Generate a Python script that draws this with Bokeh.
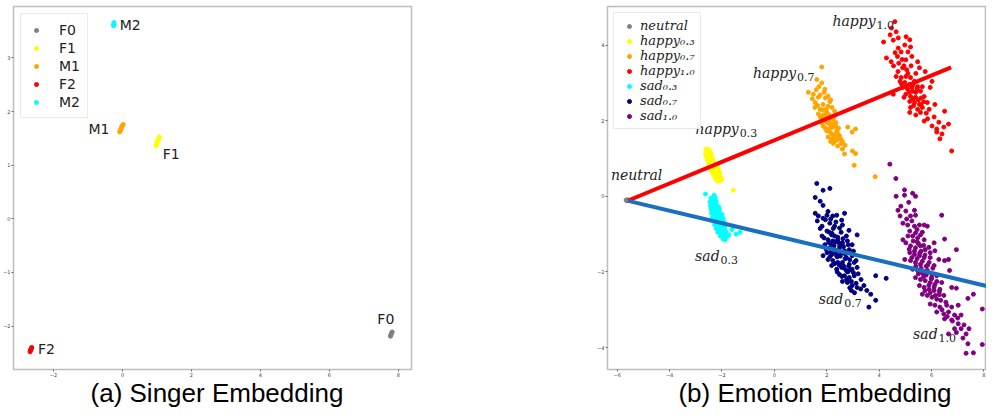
import numpy as np
from bokeh.plotting import figure
from bokeh.layouts import row, column
from bokeh.models import Legend, LegendItem, ColumnDataSource, FixedTicker, Div, Spacer
from bokeh.core.properties import value
from bokeh.embed import file_html
from bokeh.resources import INLINE

# ---------------- (a) Singer embedding data ----------------
singer_names = ["F0", "F1", "M1", "F2", "M2"]
singer_colors = ["#808080", "#ffff00", "#ffa500", "#ff0000", "#00ffff"]
f0_pts = [(7.77, -2.19), (7.78, -2.17), (7.79, -2.15), (7.80, -2.14), (7.81, -2.12), (7.82, -2.11)]
f1_pts = [(0.97, 1.36), (0.99, 1.39), (1.00, 1.42), (1.01, 1.44), (1.03, 1.46), (1.04, 1.48), (1.05, 1.50), (1.07, 1.53)]
m1_pts = [(-0.08, 1.62), (-0.06, 1.65), (-0.05, 1.67), (-0.03, 1.70), (-0.02, 1.72), (0.00, 1.74), (0.02, 1.76)]
f2_pts = [(-2.68, -2.48), (-2.67, -2.46), (-2.66, -2.44), (-2.65, -2.43), (-2.64, -2.41), (-2.63, -2.40)]
m2_pts = [(-0.26, 3.60), (-0.255, 3.62), (-0.25, 3.64), (-0.245, 3.66)]
singer_pts = [f0_pts, f1_pts, m1_pts, f2_pts, m2_pts]
singer_xticks = [-2, 0, 2, 4, 6, 8]
singer_yticks = [-2, -1, 0, 1, 2, 3]
singer_caption = "(a) Singer Embedding"

# ---------------- (b) Emotion embedding data ----------------
emo_names = ["neutral", "happy₀.₃", "happy₀.₇", "happy₁.₀", "sad₀.₃", "sad₀.₇", "sad₁.₀"]
emo_base = ["neutral", "happy", "happy", "happy", "sad", "sad", "sad"]
emo_sub = ["", "0.3", "0.7", "1.0", "0.3", "0.7", "1.0"]
emo_colors = ["#808080", "#ffff00", "#ffa500", "#ff0000", "#00ffff", "#000080", "#800080"]
neutral_pts = [(-5.66, -0.10), (-5.63, -0.12), (-5.60, -0.09)]
happy03_pts = [(-2.62, 1.24), (-2.55, 1.25), (-2.48, 1.22), (-2.60, 1.17), (-2.52, 1.18), (-2.44, 1.15),
               (-2.63, 1.10), (-2.56, 1.11), (-2.49, 1.08), (-2.41, 1.10), (-2.58, 1.03), (-2.51, 1.02),
               (-2.44, 1.04), (-2.37, 1.01), (-2.55, 0.96), (-2.48, 0.95), (-2.40, 0.97), (-2.33, 0.94),
               (-2.52, 0.89), (-2.45, 0.88), (-2.38, 0.90), (-2.30, 0.87), (-2.49, 0.82), (-2.42, 0.81),
               (-2.34, 0.83), (-2.27, 0.80), (-2.20, 0.84), (-2.46, 0.75), (-2.38, 0.74), (-2.31, 0.76),
               (-2.24, 0.73), (-2.17, 0.77), (-2.41, 0.68), (-2.34, 0.67), (-2.27, 0.69), (-2.20, 0.66),
               (-2.13, 0.70), (-2.36, 0.61), (-2.29, 0.60), (-2.22, 0.62), (-2.15, 0.59), (-2.08, 0.63),
               (-2.30, 0.54), (-2.23, 0.53), (-2.16, 0.55), (-2.09, 0.52), (-2.25, 0.47), (-2.18, 0.46),
               (-2.11, 0.48), (-2.04, 0.50), (-2.19, 0.41), (-2.12, 0.40), (-2.05, 0.42), (-2.00, 0.45),
               (-1.57, 0.16)]
happy07_pts = [(1.81, 3.42), (1.62, 3.09), (1.81, 3.00), (1.93, 2.83), (1.30, 2.75), (1.49, 2.70), (1.68, 2.62),
               (2.05, 2.65), (1.86, 2.43), (2.12, 2.50), (1.56, 2.48), (1.75, 2.30), (2.00, 2.22), (2.20, 2.35),
               (2.30, 2.25), (1.75, 2.10), (1.93, 2.00), (2.12, 1.90), (1.86, 1.86), (2.23, 1.83), (2.00, 1.73),
               (2.20, 1.65), (2.38, 1.73), (2.05, 1.57), (2.30, 1.57), (2.49, 1.60), (2.80, 1.83), (2.97, 1.70),
               (3.10, 1.78), (2.30, 1.47), (2.60, 1.44), (2.42, 1.33), (2.68, 1.12), (2.98, 1.20), (3.10, 1.13),
               (3.05, 0.82), (3.85, 0.52), (1.70, 2.90), (1.90, 2.75), (2.15, 2.55), (1.95, 2.12), (2.10, 2.15),
               (2.25, 2.05), (1.80, 1.95), (2.35, 1.95), (2.45, 1.80), (2.55, 1.50), (2.15, 1.45), (1.65, 2.40),
               (1.45, 2.58), (2.05, 1.78), (2.25, 1.40), (2.40, 1.70), (2.60, 1.25), (2.70, 1.35),
               (1.60, 2.82), (1.75, 2.68), (1.95, 2.60), (1.55, 2.35), (1.85, 2.28), (2.05, 2.38), (1.68, 2.18),
               (1.88, 2.15), (2.08, 2.02), (2.28, 2.12), (1.85, 2.05), (2.02, 1.95), (2.18, 1.82), (2.35, 1.85),
               (1.95, 1.80), (2.12, 1.70), (2.28, 1.62), (2.45, 1.62), (2.18, 1.52), (2.38, 1.48), (2.55, 1.40),
               (2.10, 1.95), (2.22, 1.92), (1.98, 2.30), (2.40, 1.55)]
happy10_pts = [(4.60, 4.62), (4.47, 4.45), (4.65, 4.35), (4.42, 4.27), (4.17, 4.08), (4.54, 4.13), (4.73, 4.19),
               (5.03, 4.22), (5.17, 4.14), (4.98, 4.00), (5.20, 3.95), (4.73, 3.92), (4.84, 3.82), (4.61, 3.80),
               (5.10, 3.82), (4.28, 3.66), (4.46, 3.56), (5.02, 3.61), (4.90, 3.40), (4.72, 3.30), (5.47, 3.56),
               (5.54, 3.40), (5.76, 3.30), (4.65, 3.17), (4.84, 3.14), (5.02, 3.17), (5.20, 3.14), (4.80, 3.04),
               (4.98, 3.01), (5.17, 2.96), (5.35, 3.04), (5.47, 2.90), (4.90, 2.88), (5.09, 2.83), (5.28, 2.78),
               (5.58, 2.78), (5.02, 2.70), (5.20, 2.64), (5.39, 2.62), (5.72, 2.64), (5.17, 2.51), (5.35, 2.48),
               (5.54, 2.43), (5.84, 2.48), (5.20, 2.35), (5.47, 2.30), (5.65, 2.35), (5.91, 2.30), (6.02, 3.04),
               (5.95, 2.88), (6.13, 2.43), (4.54, 2.70), (5.17, 2.22), (5.58, 2.22), (5.72, 1.99), (6.02, 1.86),
               (6.28, 1.96), (6.20, 1.78), (6.47, 1.83), (6.65, 1.91), (6.20, 1.70), (6.32, 1.52), (6.50, 2.25),
               (6.77, 1.20), (5.10, 3.25), (5.30, 2.95), (4.95, 3.45), (5.60, 2.60), (5.40, 2.75),
               (4.70, 3.70), (4.88, 3.62), (4.55, 3.45), (4.75, 3.52), (5.25, 3.70), (5.05, 3.35), (5.22, 3.45),
               (5.40, 3.25), (4.85, 2.98), (5.05, 2.90), (5.25, 2.88), (5.45, 2.85), (5.65, 2.90), (4.95, 2.62),
               (5.15, 2.75), (5.30, 2.58), (5.50, 2.55), (5.70, 2.50), (5.32, 2.40), (5.60, 2.42), (5.80, 2.20),
               (5.40, 2.15), (6.10, 2.10), (5.85, 2.05), (6.40, 1.65)]
sad03_pts = [(-2.63, 0.06), (-2.30, 0.03), (-2.42, -0.05), (-2.34, -0.08), (-2.26, -0.04),
             (-2.46, -0.15), (-2.38, -0.14), (-2.30, -0.17), (-2.22, -0.13),
             (-2.44, -0.25), (-2.36, -0.24), (-2.28, -0.27), (-2.20, -0.23), (-2.12, -0.28),
             (-2.42, -0.35), (-2.34, -0.36), (-2.26, -0.33), (-2.18, -0.37), (-2.10, -0.34),
             (-2.40, -0.45), (-2.32, -0.46), (-2.24, -0.43), (-2.16, -0.47), (-2.08, -0.44), (-2.00, -0.48),
             (-2.36, -0.55), (-2.28, -0.56), (-2.20, -0.53), (-2.12, -0.57), (-2.04, -0.54), (-1.96, -0.58),
             (-2.32, -0.65), (-2.24, -0.66), (-2.16, -0.63), (-2.08, -0.67), (-2.00, -0.64), (-1.92, -0.68),
             (-2.28, -0.75), (-2.20, -0.76), (-2.12, -0.73), (-2.04, -0.77), (-1.96, -0.74), (-1.88, -0.78),
             (-2.22, -0.85), (-2.14, -0.86), (-2.06, -0.83), (-1.98, -0.87), (-1.90, -0.84),
             (-2.16, -0.95), (-2.08, -0.96), (-2.00, -0.93), (-1.92, -0.97), (-1.84, -0.94),
             (-2.06, -1.05), (-1.98, -1.06), (-1.90, -1.03), (-1.82, -1.07), (-1.96, -1.13), (-1.88, -1.15),
             (-1.62, -0.88), (-1.73, -1.02), (-1.31, -0.95), (-1.46, -1.00), (-1.55, -0.80)]
sad07_pts = [(1.62, 0.34), (1.86, 0.16), (2.12, 0.21), (1.56, -0.03), (1.75, -0.13), (1.86, -0.24), (1.56, -0.45),
             (1.68, -0.52), (1.64, -0.65), (1.86, -0.58), (2.01, -0.50), (2.23, -0.52), (2.38, -0.50), (2.68, -0.45),
             (2.57, -0.63), (1.82, -0.79), (2.12, -0.71), (2.30, -0.79), (2.49, -0.84), (2.60, -0.76), (3.16, -1.02),
             (2.01, -0.92), (2.19, -1.02), (2.05, -1.15), (2.23, -1.18), (2.42, -1.15), (2.60, -1.23), (2.79, -1.18),
             (2.97, -1.28), (1.93, -1.28), (2.12, -1.36), (2.30, -1.41), (2.49, -1.36), (2.68, -1.44), (2.86, -1.41),
             (2.01, -1.49), (2.19, -1.54), (2.38, -1.57), (2.75, -1.62), (2.97, -1.57), (2.05, -1.67), (2.23, -1.70),
             (2.42, -1.75), (2.60, -1.75), (2.86, -1.80), (3.12, -1.70), (2.19, -1.83), (2.38, -1.93), (2.57, -1.88),
             (2.75, -1.96), (2.97, -1.93), (3.16, -1.88), (2.49, -2.07), (2.68, -2.10), (2.86, -2.15), (3.05, -2.10),
             (3.31, -2.20), (2.79, -2.28), (2.97, -2.36), (2.94, -2.49), (3.16, -2.41), (3.42, -2.36), (3.53, -2.49),
             (3.68, -2.59), (3.87, -2.75), (3.61, -2.93), (3.87, -2.10), (4.27, -2.17), (1.82, -1.05), (1.86, -1.57),
             (2.30, -1.05), (2.50, -1.30), (2.40, -1.60), (2.15, -1.25), (2.65, -1.85), (2.55, -1.50), (2.35, -1.20),
             (2.80, -2.00), (2.10, -0.95), (2.45, -1.45), (2.70, -1.65), (2.90, -1.95), (2.25, -0.85), (2.60, -2.25),
             (1.95, -0.62), (2.15, -0.60), (2.35, -0.68), (2.55, -0.95), (2.75, -1.05), (1.90, -1.10), (2.08, -1.22),
             (2.28, -1.30), (2.46, -1.22), (2.64, -1.33), (2.82, -1.28), (3.02, -1.45), (1.98, -1.40), (2.16, -1.47),
             (2.34, -1.50), (2.52, -1.58), (2.70, -1.52), (2.88, -1.68), (3.05, -1.75), (2.12, -1.60), (2.30, -1.78),
             (2.48, -1.82), (2.66, -1.90), (2.84, -1.85), (3.02, -2.02), (3.20, -2.05), (2.40, -2.00), (2.58, -2.12),
             (2.76, -2.20), (2.94, -2.25), (3.12, -2.30), (3.30, -2.45), (2.88, -2.42), (3.06, -2.55), (2.20, -0.98),
             (2.42, -1.08), (2.62, -1.12), (1.75, -0.85), (2.05, -0.40), (2.85, -0.90)]
sad10_pts = [(4.41, 0.85), (4.64, 0.47), (4.65, 0.00), (4.97, 0.17), (4.97, 0.03), (5.28, 0.08), (5.39, 0.00),
             (5.13, -0.16), (4.72, -0.37), (4.83, -0.26), (5.02, -0.39), (5.35, -0.37), (4.80, -0.52), (5.20, -0.52),
             (5.39, -0.50), (6.39, -0.50), (4.91, -0.71), (5.09, -0.76), (5.35, -0.79), (5.54, -0.76), (5.72, -0.76),
             (5.84, -0.79), (5.17, -0.92), (5.39, -0.97), (5.58, -1.02), (4.91, -1.15), (5.28, -1.05), (5.47, -1.10),
             (5.72, -1.15), (6.10, -1.23), (6.50, -1.13), (5.02, -1.23), (5.20, -1.31), (5.39, -1.36), (5.58, -1.31),
             (5.76, -1.41), (5.95, -1.49), (6.13, -1.44), (6.95, -1.41), (5.17, -1.49), (5.35, -1.54), (5.54, -1.57),
             (5.72, -1.62), (6.28, -1.67), (6.50, -1.70), (6.65, -1.67), (4.98, -1.67), (5.20, -1.70), (5.39, -1.75),
             (5.58, -1.80), (5.91, -1.75), (6.10, -1.83), (6.69, -1.96), (5.28, -1.93), (5.47, -1.96), (5.65, -2.02),
             (5.84, -1.96), (6.02, -2.07), (6.20, -2.10), (5.39, -2.15), (5.58, -2.20), (5.76, -2.23), (5.95, -2.28),
             (6.13, -2.33), (6.39, -2.28), (5.54, -2.36), (5.72, -2.41), (5.91, -2.46), (6.10, -2.49), (6.32, -2.46),
             (6.77, -2.41), (6.95, -2.43), (5.65, -2.59), (5.84, -2.62), (6.02, -2.67), (6.20, -2.72), (6.47, -2.62),
             (7.39, -2.70), (7.60, -2.59), (5.95, -2.85), (6.13, -2.88), (6.32, -2.93), (6.58, -2.88), (6.77, -2.93),
             (7.02, -2.88), (7.94, -2.98), (6.20, -3.06), (6.47, -3.11), (6.65, -3.06), (6.88, -3.14), (7.13, -3.14),
             (6.50, -3.24), (6.77, -3.27), (7.02, -3.37), (7.24, -3.40), (6.88, -3.50), (7.13, -3.50), (7.43, -3.50),
             (6.65, -3.64), (7.32, -3.64), (7.39, -3.90), (7.94, -3.92), (7.32, -4.15), (7.60, -4.14),
             (5.60, -1.45), (5.80, -1.85), (6.00, -2.15), (5.45, -1.20), (6.30, -2.60), (5.70, -2.00),
             (5.05, -0.60), (5.25, -0.65), (5.45, -0.88), (5.65, -0.95), (5.10, -1.05), (5.30, -1.18), (5.50, -1.25),
             (5.70, -1.30), (5.90, -1.35), (5.15, -1.40), (5.35, -1.45), (5.55, -1.50), (5.75, -1.55), (5.95, -1.62),
             (5.25, -1.62), (5.45, -1.65), (5.65, -1.72), (5.85, -1.82), (6.05, -1.90), (5.40, -1.85), (5.60, -1.90),
             (5.80, -2.08), (6.00, -2.18), (6.20, -2.25), (5.50, -2.05), (5.70, -2.12), (5.90, -2.35), (6.10, -2.40),
             (6.30, -2.52), (5.75, -2.50), (5.95, -2.55), (6.15, -2.62), (6.35, -2.75), (6.55, -2.80), (6.40, -3.00),
             (6.60, -3.18), (6.80, -3.30), (7.00, -3.22), (6.95, -3.60), (7.20, -3.75)]
emo_pts = [neutral_pts, happy03_pts, happy07_pts, happy10_pts, sad03_pts, sad07_pts, sad10_pts]
happy_line_x = [-5.58, 6.75]
happy_line_y = [-0.11, 3.41]
sad_line_x = [-5.58, 8.15]
sad_line_y = [-0.12, -2.38]
emo_xticks = [-6, -4, -2, 0, 2, 4, 6, 8]
emo_yticks = [-4, -2, 0, 2, 4]
emo_caption = "(b) Emotion Embedding"

# label placement (pixel offsets from each cluster mean)
singer_lab_dx = [-14, 5, -12, 7, 6]
singer_lab_dy = [-15, 13, 1, 0, 1]
singer_lab_align = ["left", "left", "right", "left", "left"]
emo_lab_dx = [-16, -18, -78, -81, -24, -22, -17]
emo_lab_dy = [-25, -38, -48, -64, 37, 48, 65]
LABEL_PX = 14
SUB_PX = 11
# approximate advance widths (em) of DejaVu Serif Italic, used to place the subscripts
EM = {"h": 0.644, "a": 0.596, "p": 0.640, "y": 0.565, "s": 0.513, "d": 0.640,
      "n": 0.644, "e": 0.592, "u": 0.644, "t": 0.402, "r": 0.478, "l": 0.320}


def tick_labels(ticks):
    return {t: (("−" + str(abs(t))) if t < 0 else str(t)) for t in ticks}


def style(p, xticks, yticks):
    p.grid.visible = False
    p.background_fill_color = "white"
    p.border_fill_color = "white"
    p.outline_line_color = "#bdbdbd"
    p.outline_line_width = 1.5
    for ax in (p.xaxis[0], p.yaxis[0]):
        ax.axis_line_color = None
        ax.major_tick_out = 2
        ax.major_tick_in = 0
        ax.major_tick_line_color = "#666666"
        ax.minor_tick_line_color = None
        ax.major_label_text_font = "DejaVu Sans"
        ax.major_label_text_font_size = "5px"
        ax.major_label_text_color = "#444444"
        ax.major_label_standoff = 1
    p.xaxis[0].ticker = FixedTicker(ticks=xticks)
    p.yaxis[0].ticker = FixedTicker(ticks=yticks)
    p.xaxis[0].major_label_overrides = tick_labels(xticks)
    p.yaxis[0].major_label_overrides = tick_labels(yticks)


FIG_H = 379
CAP_H = 25
cap_style = {"font-family": "'Liberation Sans', Arial, sans-serif", "font-size": "26px",
             "line-height": "19px", "text-align": "center", "color": "black",
             "white-space": "nowrap"}

# ---------------- figure (a) ----------------
p1 = figure(width=590, height=FIG_H, x_range=(-3.16, 8.38), y_range=(-2.81, 3.96),
            output_backend="svg", toolbar_location=None,
            min_border_left=13, min_border_right=179, min_border_top=6, min_border_bottom=0)
style(p1, singer_xticks, singer_yticks)

items1 = []
lab1 = dict(x=[], y=[], text=[], dx=[], dy=[], align=[])
for name, col, pts, dx, dy, al in zip(singer_names, singer_colors, singer_pts,
                                      singer_lab_dx, singer_lab_dy, singer_lab_align):
    xs = [a for a, b in pts]
    ys = [b for a, b in pts]
    r = p1.scatter(xs, ys, size=4, fill_color=col, line_color=col)
    items1.append(LegendItem(label=name, renderers=[r]))
    lab1["x"].append(float(np.mean(xs)))
    lab1["y"].append(float(np.mean(ys)))
    lab1["text"].append(name)
    lab1["dx"].append(dx)
    lab1["dy"].append(dy)
    lab1["align"].append(al)

p1.text(x="x", y="y", text="text", x_offset="dx", y_offset="dy", text_align="align",
        text_baseline="middle", text_font=value("DejaVu Sans"), text_font_size="14px",
        text_color="#222222", source=ColumnDataSource(lab1))

leg1 = Legend(items=items1, location="top_left", margin=7, padding=7, spacing=1,
              glyph_width=16, glyph_height=10, label_standoff=15, label_height=17,
              label_text_font="DejaVu Sans", label_text_font_size="14px",
              label_text_color="#222222", border_line_color="#d5d5d5",
              border_line_width=1, background_fill_alpha=0.9)
p1.add_layout(leg1)

# ---------------- figure (b) ----------------
p2 = figure(width=396, height=FIG_H, x_range=(-6.37, 8.1), y_range=(-4.58, 5.02),
            output_backend="svg", toolbar_location=None,
            min_border_left=17, min_border_right=0, min_border_top=6, min_border_bottom=0)
style(p2, emo_xticks, emo_yticks)

items2 = []
lab2 = dict(x=[], y=[], text=[], dx=[], dy=[])
sub2 = dict(x=[], y=[], text=[], dx=[], dy=[])
for name, base, sub, col, pts, dx, dy in zip(emo_names, emo_base, emo_sub, emo_colors, emo_pts,
                                             emo_lab_dx, emo_lab_dy):
    xs = [a for a, b in pts]
    ys = [b for a, b in pts]
    r = p2.scatter(xs, ys, size=4, fill_color=col, line_color=col)
    items2.append(LegendItem(label=name, renderers=[r]))
    mx, my = float(np.mean(xs)), float(np.mean(ys))
    lab2["x"].append(mx)
    lab2["y"].append(my)
    lab2["text"].append(base)
    lab2["dx"].append(dx)
    lab2["dy"].append(dy)
    if sub:
        w = sum(EM[c] for c in base) * LABEL_PX
        sub2["x"].append(mx)
        sub2["y"].append(my)
        sub2["text"].append(sub)
        sub2["dx"].append(dx + w + 1)
        sub2["dy"].append(dy + 4)

p2.line(happy_line_x, happy_line_y, line_color="#ff0000", line_width=4)
p2.line(sad_line_x, sad_line_y, line_color="#1a70c0", line_width=4)

p2.text(x="x", y="y", text="text", x_offset="dx", y_offset="dy", text_align="left",
        text_baseline="middle", text_font=value("DejaVu Serif"), text_font_style="italic",
        text_font_size=f"{LABEL_PX}px", text_color="#222222", source=ColumnDataSource(lab2))
p2.text(x="x", y="y", text="text", x_offset="dx", y_offset="dy", text_align="left",
        text_baseline="middle", text_font=value("DejaVu Serif"),
        text_font_size=f"{SUB_PX}px", text_color="#222222", source=ColumnDataSource(sub2))

leg2 = Legend(items=items2, location="top_left", margin=6, padding=5, spacing=0,
              glyph_width=20, glyph_height=10, label_standoff=1, label_height=14,
              label_text_font="DejaVu Serif", label_text_font_style="italic",
              label_text_font_size="13px", label_text_color="#222222",
              border_line_color="#d5d5d5", border_line_width=1, background_fill_alpha=0.9)
p2.add_layout(leg2)

# ---------------- captions ----------------
cap1 = Div(text=singer_caption, width=424, height=CAP_H, styles=cap_style)
cap2 = Div(text=emo_caption, width=372, height=CAP_H, styles=cap_style)

layout = column(row(p1, p2), row(cap1, Spacer(width=190, height=CAP_H), cap2))
open("out.html", "w").write(file_html(layout, INLINE))
